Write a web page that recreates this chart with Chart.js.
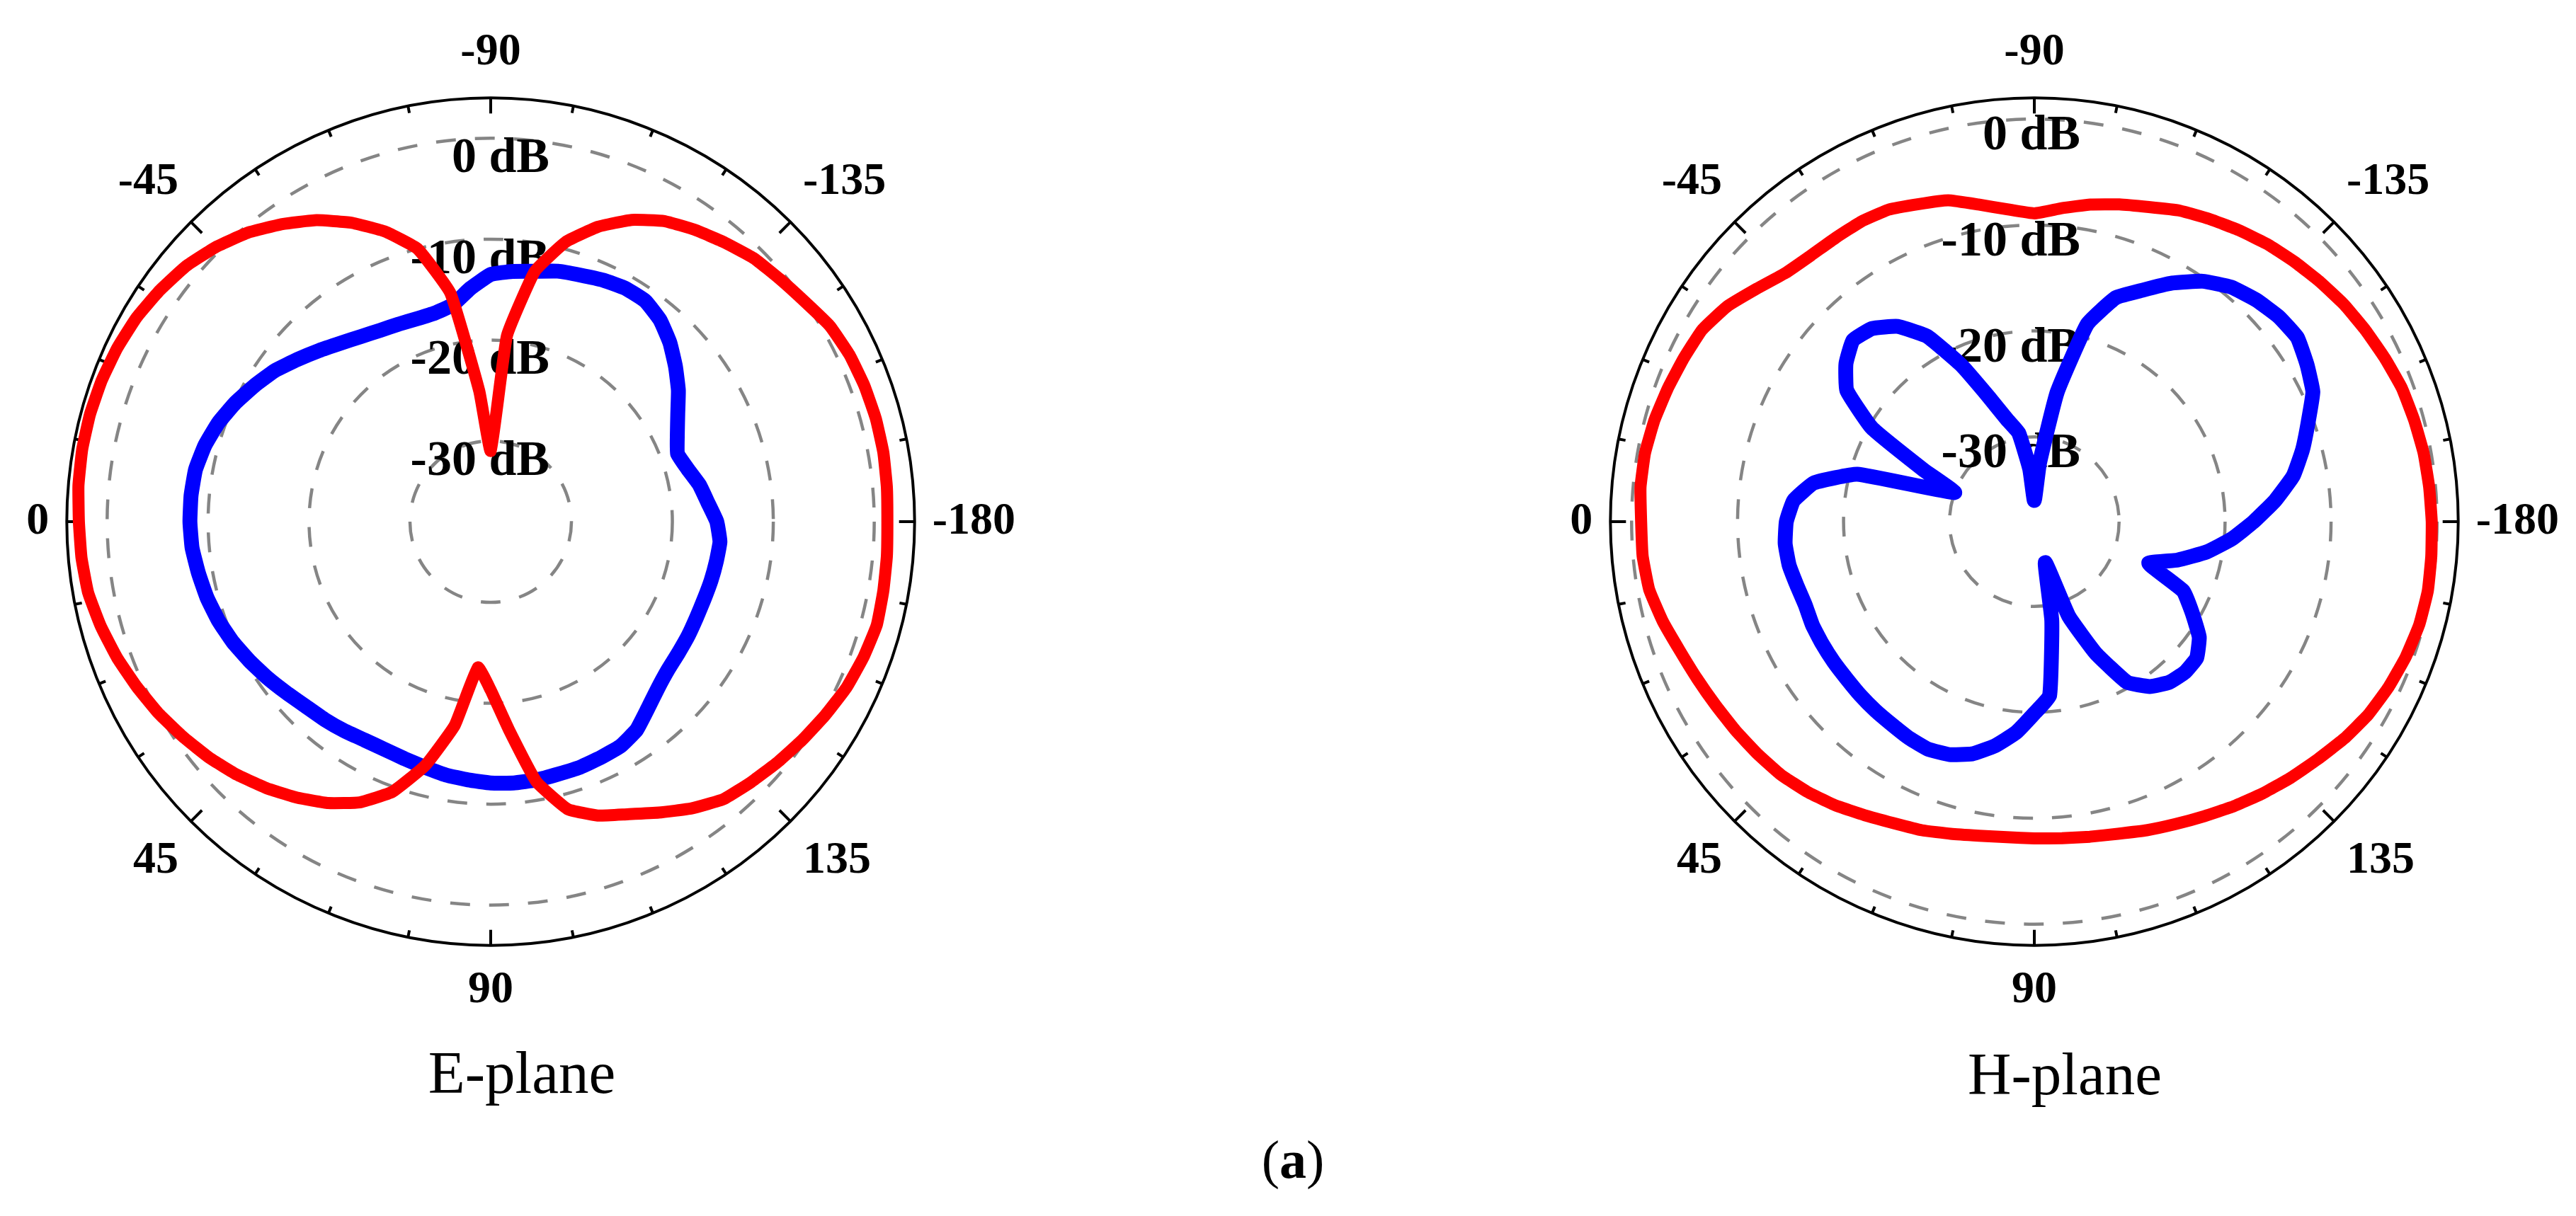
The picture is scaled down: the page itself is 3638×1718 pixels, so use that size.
<!DOCTYPE html>
<html><head><meta charset="utf-8">
<script src="https://cdn.jsdelivr.net/npm/chart.js@4.4.1/dist/chart.umd.min.js"></script>
<style>
html,body{margin:0;padding:0;background:#fff;}
body{width:3638px;height:1718px;position:relative;overflow:hidden;}
.box{position:absolute;width:1482px;height:1482px;}
.cap{position:absolute;font-family:"Liberation Serif",serif;color:#000;white-space:nowrap;line-height:1;transform:translate(-50%,-50%);}
</style></head><body>
<div class="box" style="left:-5px;top:-4px"><canvas id="cE"></canvas></div>
<div class="box" style="left:2175px;top:-4px"><canvas id="cH"></canvas></div>
<div class="cap" style="left:737px;top:1515px;font-size:85px">E-plane</div>
<div class="cap" style="left:2916px;top:1517px;font-size:85px">H-plane</div>
<div class="cap" style="left:1826px;top:1638px;font-size:76px">(<b>a</b>)</div>
<script>
// angle (degrees), clockwise from the top of the plot
const angleLabels = [-90,-95,-100,-105,-110,-115,-120,-125,-130,-135,-140,-145,-150,-155,-160,-165,-170,-175,-180,
  175,170,165,160,155,150,145,140,135,130,125,120,115,110,105,100,95,90,85,80,75,70,65,60,55,50,45,40,35,30,25,20,15,10,5,0,
  -5,-10,-15,-20,-25,-30,-35,-40,-45,-50,-55,-60,-65,-70,-75,-80,-85];

// E-plane (dB)
const eRed = [-31,-19.5,-12.8,-9.3,-6.9,-5.0,-3.6,-2.7,-1.9,-1.1,-0.6,0,0.8,1.2,1.4,1.5,1.5,1.4,1.3,
  1.4,1.5,1.6,1.3,0.9,0.3,-0.3,-0.9,-1.5,-2.1,-3.3,-4.7,-6.0,-7.0,-8.5,-11.8,-17.3,-21.3,-23.5,-17.5,-13,-9.5,-7.3,-5.8,-4.6,-3.5,-2.5,-1.6,-0.8,0,0.7,1.4,2.0,2.5,2.7,2.8,
  3.0,3.1,3.1,3.0,2.8,2.5,2.0,1.4,0.5,-0.6,-2.0,-3.5,-5.3,-7.4,-10,-15,-25];
const eBlue = [-13.5,-13.1,-12.8,-12.3,-12.0,-11.6,-11.3,-11.3,-11.9,-12.9,-14.1,-15.3,-16.6,-17.6,-18.3,-17.8,-17.0,-16.4,-15.6,
  -15.2,-15.3,-15.4,-15.5,-15.5,-15.4,-15.3,-15.1,-14.6,-13.8,-12.8,-12.3,-12.2,-12.1,-12.1,-12.0,-12.0,-12.1,-12.3,-12.5,-12.8,-13.0,-13.1,-13.0,-12.7,-12.4,-12.1,-11.6,-11.0,-10.4,-9.8,-9.3,-8.9,-8.6,-8.3,-8.2,
  -8.2,-8.3,-8.7,-9.3,-10.1,-11.0,-11.9,-13.0,-14.0,-14.9,-15.6,-16.1,-16.4,-16.6,-16.6,-16.2,-14.8];

// H-plane (dB)
const hRed = [-8.9,-8.3,-7.6,-7.0,-6.4,-5.6,-5.0,-4.4,-3.8,-3.3,-2.8,-2.3,-1.9,-1.5,-1.1,-0.9,-0.7,-0.6,-0.5,
  -0.4,-0.3,-0.4,-0.7,-1.1,-1.6,-2.3,-3.1,-3.8,-4.5,-5.2,-5.9,-6.5,-7.0,-7.5,-7.8,-8.0,-8.1,-8.1,-7.9,-7.5,-7.0,-6.6,-6.0,-5.3,-4.7,-4.2,-3.9,-3.6,-3.3,-2.9,-2.4,-1.7,-1.1,-0.9,-0.9,
  -0.7,-0.7,-0.9,-1.2,-1.5,-1.8,-2.6,-3.8,-4.8,-5.2,-5.3,-5.3,-5.5,-6.1,-6.6,-7.6,-8.4];
const hBlue = [-36,-32.5,-25.6,-18.7,-15.5,-13.9,-12.0,-10.3,-9.1,-8.4,-7.9,-7.7,-8.3,-9.0,-10.5,-11.8,-13.2,-15.2,-17.3,
  -19.3,-21.5,-24.0,-26.5,-22.5,-20.8,-19.0,-18.0,-17.9,-18.2,-19.0,-20.5,-24.3,-28.5,-34,-28.5,-21.5,-19.9,-18.0,-16.5,-15.3,-14.6,-14.3,-14.4,-14.6,-14.7,-14.8,-14.9,-14.9,-14.9,-14.9,-15.0,-14.8,-14.5,-14.4,-14.6,
  -15.2,-16.9,-20.7,-30.0,-26.5,-20.3,-16.4,-14.8,-13.8,-14.2,-15.5,-17.8,-21.7,-25.5,-28.0,-29.5,-33];

// radial scale: centre value, outer rim value of each plot, labelled rings
const rMin = -38;
const eMax = 4;
const hMax = 2;
const ringTicks = [-30, -20, -10, 0];

const dbLabels = {
  id: 'dbLabels',
  beforeDatasetsDraw(chart, args, opts) {
    const s = chart.scales.r, ctx = chart.ctx;
    ctx.save();
    ctx.font = 'bold 70px "Liberation Serif"';
    ctx.fillStyle = '#000';
    ctx.textAlign = 'right';
    ctx.textBaseline = 'middle';
    s.ticks.forEach(t => {
      if (t.value === s.min || t.value === s.max) return;
      const d = s.getDistanceFromCenterForValue(t.value);
      ctx.fillText(t.value + ' dB', s.xCenter + opts.dx, s.yCenter - d + opts.dy);
    });
    ctx.restore();
  }
};
const rimTicks = {
  id: 'rimTicks',
  beforeDatasetsDraw(chart) {
    const s = chart.scales.r, ctx = chart.ctx, R = s.drawingArea;
    ctx.save();
    ctx.strokeStyle = '#000';
    ctx.lineWidth = 4;
    for (let i = 0; i < 32; i++) {
      const a = i * Math.PI / 16, len = (i % 4 === 0) ? 22 : 10;
      ctx.beginPath();
      ctx.moveTo(s.xCenter + Math.cos(a) * R, s.yCenter + Math.sin(a) * R);
      ctx.lineTo(s.xCenter + Math.cos(a) * (R - len), s.yCenter + Math.sin(a) * (R - len));
      ctx.stroke();
    }
    ctx.restore();
  }
};

function makeChart(id, red, blue, max, dx, dy) {
  new Chart(document.getElementById(id), {
    type: 'radar',
    data: {
      labels: angleLabels,
      datasets: [
        {data: red, borderColor: '#ff0000', backgroundColor: 'transparent', borderWidth: 17, pointRadius: 0, fill: false, tension: 0.12, borderJoinStyle: 'round'},
        {data: blue, borderColor: '#0000ff', backgroundColor: 'transparent', borderWidth: 21, pointRadius: 0, fill: false, tension: 0.12, borderJoinStyle: 'round'}
      ]
    },
    options: {
      responsive: true, maintainAspectRatio: false, animation: false, devicePixelRatio: 1, events: [],
      layout: {padding: 0},
      plugins: {legend: {display: false}, tooltip: {enabled: false}, dbLabels: {dx: dx, dy: dy}},
      scales: {
        r: {
          min: rMin, max: max,
          startAngle: 0,
          afterBuildTicks: s => { s.ticks = ringTicks.concat([max]).map(v => ({value: v})); },
          angleLines: {display: false},
          grid: {
            circular: true,
            color: c => (c.tick && c.tick.value === max) ? '#000' : '#858585',
            lineWidth: c => (c.tick && c.tick.value === max) ? 4 : 4.5
          },
          border: {dash: c => (c.tick && c.tick.value === max) ? [] : [28, 27]},
          ticks: {display: false},
          pointLabels: {
            display: true, padding: 25, color: '#000',
            font: {family: 'Liberation Serif', weight: 'bold', size: 64},
            callback: l => (Number(l) % 45 === 0 ? String(l) : '')
          }
        }
      }
    },
    plugins: [dbLabels, rimTicks]
  });
}
makeChart('cE', eRed, eBlue, eMax, 83, 30);
makeChart('cH', hRed, hBlue, hMax, 65, 25);
</script>
</body></html>
